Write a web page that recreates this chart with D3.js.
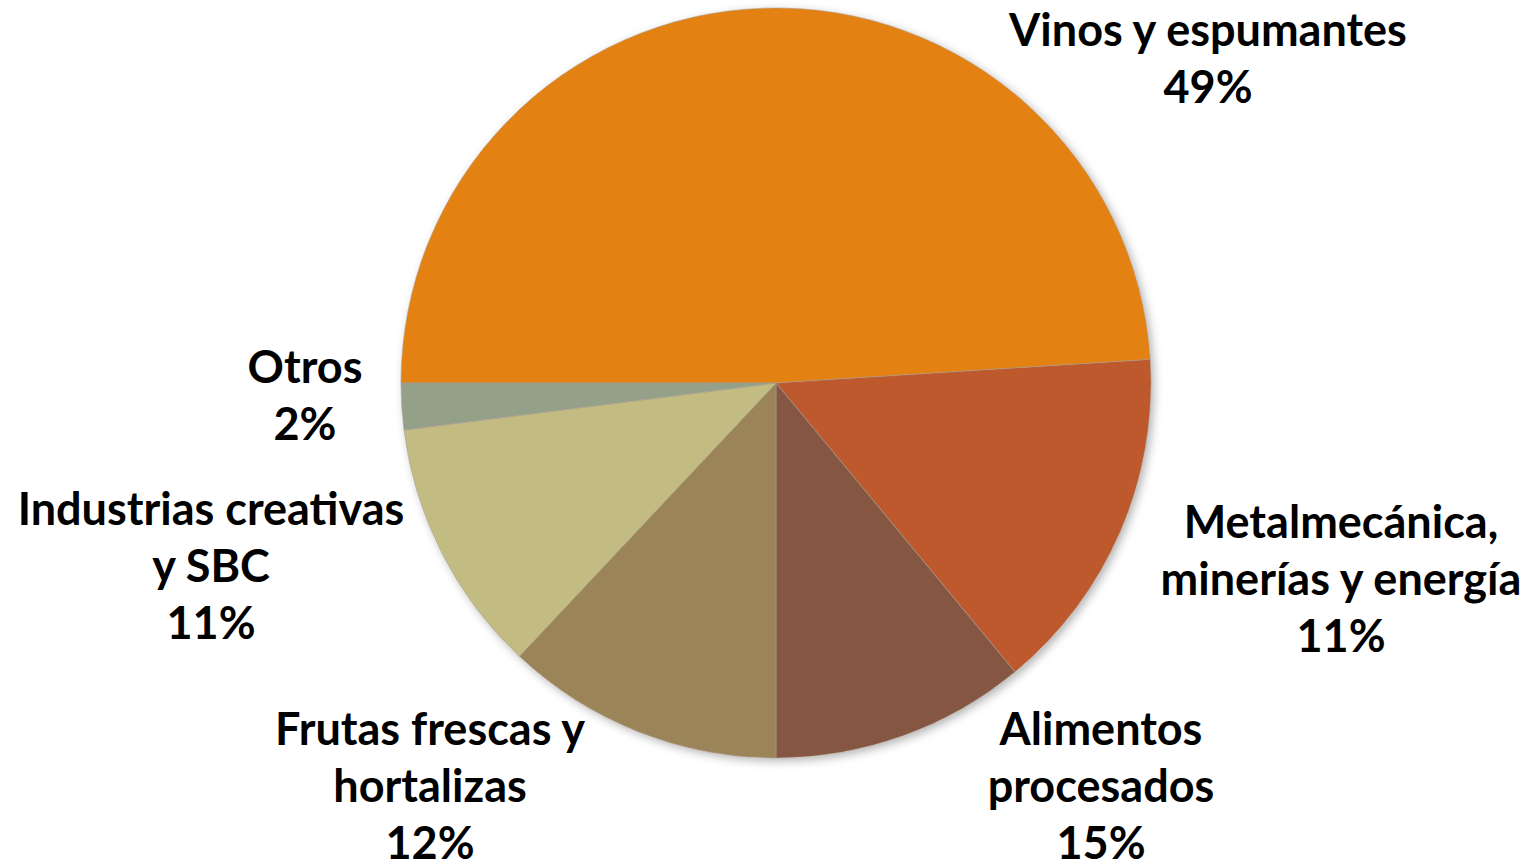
<!DOCTYPE html>
<html>
<head>
<meta charset="utf-8">
<script src="https://cdn.jsdelivr.net/npm/d3@7"></script>
<style>
  html, body { margin: 0; padding: 0; background: #fff; }
  svg { display: block; }
  .lbl { font-family: Lato, "Open Sans", sans-serif; font-weight: 700; fill: #000; }
</style>
</head>
<body>
<div id="chart"></div>
<script>
// slices clockwise from 9 o'clock
const categories = ["Vinos y espumantes", "Alimentos procesados", "Metalmecánica, minerías y energía",
                    "Frutas frescas y hortalizas", "Industrias creativas y SBC", "Otros"];
const values = [49, 15, 11, 12, 11, 2];
const colors = ["#E38213", "#BD592C", "#855641", "#9C8459", "#C2BC83", "#95A088"];
// label lines as broken in the chart
const labelLines = [
  ["Vinos y espumantes"],
  ["Alimentos", "procesados"],
  ["Metalmecánica,", "minerías y energía"],
  ["Frutas frescas y", "hortalizas"],
  ["Industrias creativas", "y SBC"],
  ["Otros"]
];

const width = 1532, height = 866;
const cx = 776, cy = 383, radius = 375;
// label anchor (first baseline) relative to pie centre, hand-placed like the original
const labelOffset = [[432, -337], [325, 362], [565, 155], [-346, 362], [-565, 142], [-471, 0]];
const lineH = 57;

const svg = d3.select("#chart").append("svg")
  .attr("width", width).attr("height", height);

const defs = svg.append("defs");
const f = defs.append("filter").attr("id", "shadow")
  .attr("x", "-10%").attr("y", "-10%").attr("width", "120%").attr("height", "120%");
f.append("feDropShadow").attr("dx", 3).attr("dy", 3).attr("stdDeviation", 5)
  .attr("flood-color", "#000").attr("flood-opacity", 0.3);

const total = d3.sum(values);
const data = categories.map((c, i) => ({ name: c, value: values[i], color: colors[i], i }));

const pie = d3.pie().sort(null).value(d => d.value)
  .startAngle(-Math.PI / 2).endAngle(Math.PI * 1.5);
const arc = d3.arc().innerRadius(0).outerRadius(radius);

const g = svg.append("g").attr("transform", `translate(${cx},${cy})`);

g.append("circle").attr("r", radius).attr("fill", "#fff").attr("filter", "url(#shadow)");

g.selectAll("path.slice")
  .data(pie(data))
  .join("path")
  .attr("class", "slice")
  .attr("d", arc)
  .attr("fill", d => d.data.color)
  .attr("stroke", "#a89c90")
  .attr("stroke-width", 0.8)
  .attr("stroke-opacity", 0.7);

const fmt = d3.format(".0%");
const labels = g.selectAll("text.lbl")
  .data(data)
  .join("text")
  .attr("class", "lbl")
  .attr("text-anchor", "middle")
  .attr("font-size", 45)
  .attr("x", d => labelOffset[d.i][0])
  .attr("y", d => labelOffset[d.i][1]);

labels.each(function(d) {
  const t = d3.select(this);
  const lines = labelLines[d.i].concat([fmt(d.value / total)]);
  lines.forEach((ln, k) => {
    t.append("tspan")
      .attr("x", labelOffset[d.i][0])
      .attr("dy", k === 0 ? 0 : lineH)
      .text(ln);
  });
});
</script>
</body>
</html>
